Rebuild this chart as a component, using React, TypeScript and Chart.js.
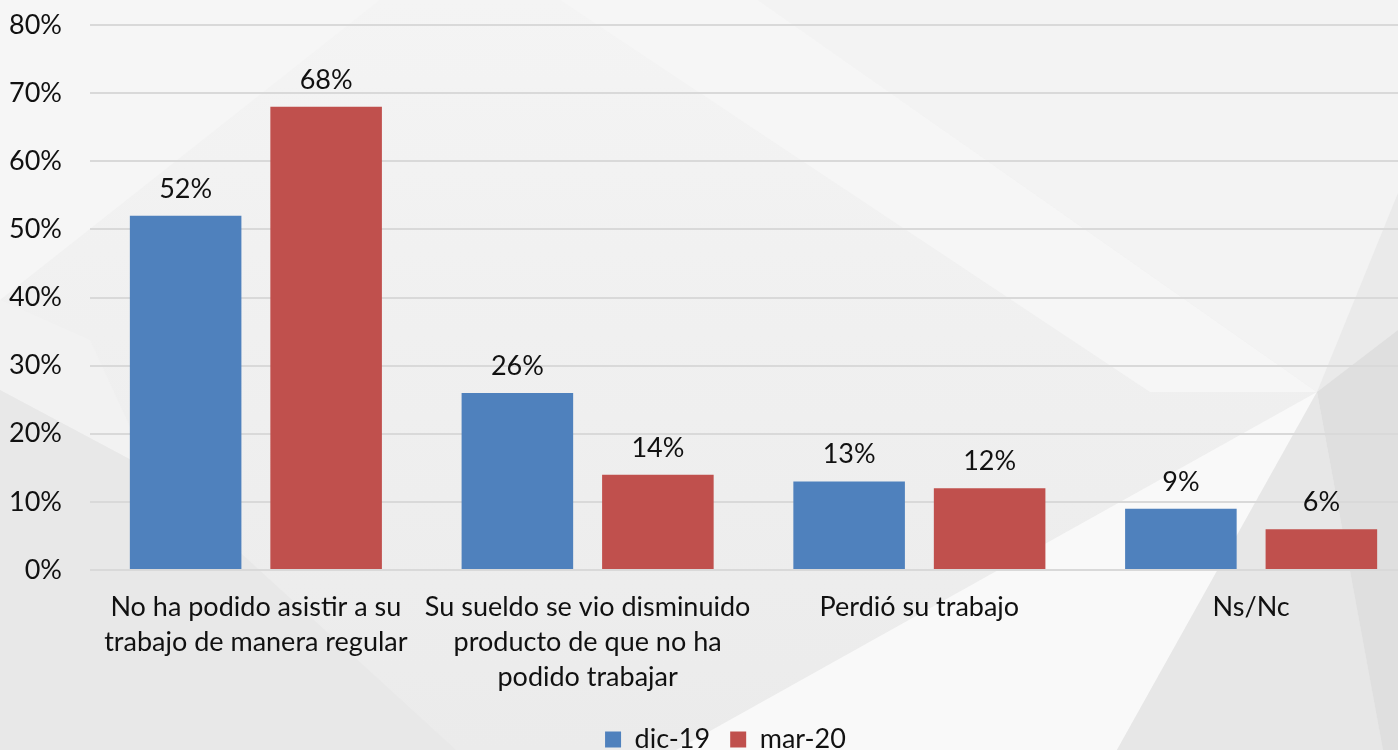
import React, { useEffect, useRef } from "react";
import { Chart, registerables } from "chart.js";

Chart.register(...registerables);

const categories: string[][] = [
  ["No ha podido asistir a su", "trabajo de manera regular"],
  ["Su sueldo se vio disminuido", "producto de que no ha", "podido trabajar"],
  ["Perdió su trabajo"],
  ["Ns/Nc"],
];
const dic19: number[] = [52, 26, 13, 9];
const mar20: number[] = [68, 14, 12, 6];
const seriesNames: string[] = ["dic-19", "mar-20"];
const yTicks: number[] = [0, 10, 20, 30, 40, 50, 60, 70, 80];

const FONT = "Lato, 'Open Sans', sans-serif";
const CANVAS_W = 1450;
const CANVAS_H = 763;

const bgPlugin = {
  id: "bgShapes",
  afterLayout(chart: any) {
    if (chart.legend) {
      chart.legend.left += 34;
    }
  },
  beforeDraw(chart: any) {
    const ctx = chart.ctx as CanvasRenderingContext2D;
    const W = chart.width;
    const H = chart.height;
    ctx.save();
    const poly = (pts: number[][], color: string | CanvasGradient) => {
      ctx.beginPath();
      ctx.moveTo(pts[0][0], pts[0][1]);
      for (let i = 1; i < pts.length; i++) ctx.lineTo(pts[i][0], pts[i][1]);
      ctx.closePath();
      ctx.fillStyle = color;
      ctx.fill();
    };
    const g = ctx.createLinearGradient(0, 0, 0, 750);
    g.addColorStop(0, "#f4f4f4");
    g.addColorStop(1, "#ebebeb");
    poly([[0, 0], [W, 0], [W, H], [0, H]], g);
    poly([[0, 0], [380, 0], [0, 300]], "#f6f6f6");
    poly([[0, 300], [0, 390], [150, 470], [90, 340]], "#f2f2f2");
    poly([[0, 390], [150, 470], [470, H], [0, H]], "#e8e8e8");
    poly([[560, 0], [758, 0], [1317, 392], [1150, 392]], "#f6f6f6");
    poly([[758, 0], [W, 0], [W, 193], [1317, 392]], "#f3f3f3");
    poly([[1317, 392], [1398, 193], [1398, 330]], "#eaeaea");
    poly([[1317, 392], [676, 750], [1117, 750]], "#f9f9f9");
    poly([[1317, 392], [1117, 750], [1383, 750]], "#e7e7e7");
    poly([[1317, 392], [1398, 330], [1398, 750], [1383, 750]], "#dfdfdf");
    ctx.restore();
  },
};

const labelPlugin = {
  id: "valueLabels",
  afterDatasetsDraw(chart: any) {
    const ctx = chart.ctx as CanvasRenderingContext2D;
    ctx.save();
    ctx.font = `27px ${FONT}`;
    ctx.fillStyle = "#111111";
    ctx.textAlign = "center";
    ctx.textBaseline = "alphabetic";
    chart.data.datasets.forEach((ds: any, di: number) => {
      const meta = chart.getDatasetMeta(di);
      meta.data.forEach((bar: any, i: number) => {
        ctx.fillText(`${ds.data[i]}%`, bar.x, bar.y - 18);
      });
    });
    ctx.restore();
  },
};

export default function App() {
  const ref = useRef<HTMLCanvasElement | null>(null);
  useEffect(() => {
    if (!ref.current) return;
    const chart = new Chart(ref.current, {
      type: "bar",
      data: {
        labels: categories,
        datasets: [
          {
            label: seriesNames[0],
            data: dic19,
            backgroundColor: "#4f81bd",
            borderWidth: 0,
            categoryPercentage: 0.847,
            barPercentage: 0.794,
          },
          {
            label: seriesNames[1],
            data: mar20,
            backgroundColor: "#c0504d",
            borderWidth: 0,
            categoryPercentage: 0.847,
            barPercentage: 0.794,
          },
        ],
      },
      options: {
        animation: false,
        responsive: false,
        maintainAspectRatio: false,
        layout: { padding: { top: 25, right: 33, left: 0, bottom: 0 } },
        plugins: {
          tooltip: { enabled: false },
          legend: {
            position: "bottom",
            labels: {
              font: { family: FONT, size: 27 },
              color: "#111111",
              boxWidth: 16,
              boxHeight: 16,
              padding: 20,
            },
          },
        },
        scales: {
          x: {
            grid: { display: false, drawTicks: false },
            border: { display: false },
            ticks: {
              font: { family: FONT, size: 27, lineHeight: 1.3 },
              color: "#111111",
              padding: 20,
              maxRotation: 0,
              autoSkip: false,
            },
            afterFit: (s: any) => {
              s.height = 136;
            },
          },
          y: {
            min: 0,
            max: 80,
            afterBuildTicks: (s: any) => {
              s.ticks = yTicks.map((v) => ({ value: v }));
            },
            grid: { color: "#d9d9d9", lineWidth: 2, drawTicks: false },
            border: { display: false },
            ticks: {
              font: { family: FONT, size: 27 },
              color: "#111111",
              padding: 28,
              callback: (v: any) => `${v}%`,
            },
            afterFit: (s: any) => {
              s.width = 90;
              s.paddingTop = 0;
              s.paddingBottom = 0;
            },
          },
        },
      },
      plugins: [bgPlugin, labelPlugin],
    });
    return () => chart.destroy();
  }, []);
  return (
    <div style={{ position: "fixed", left: 0, top: 0, width: 1398, height: 750, overflow: "hidden" }}>
      <canvas
        ref={ref}
        width={CANVAS_W}
        height={CANVAS_H}
        style={{ width: CANVAS_W, height: CANVAS_H, display: "block" }}
      />
    </div>
  );
}
